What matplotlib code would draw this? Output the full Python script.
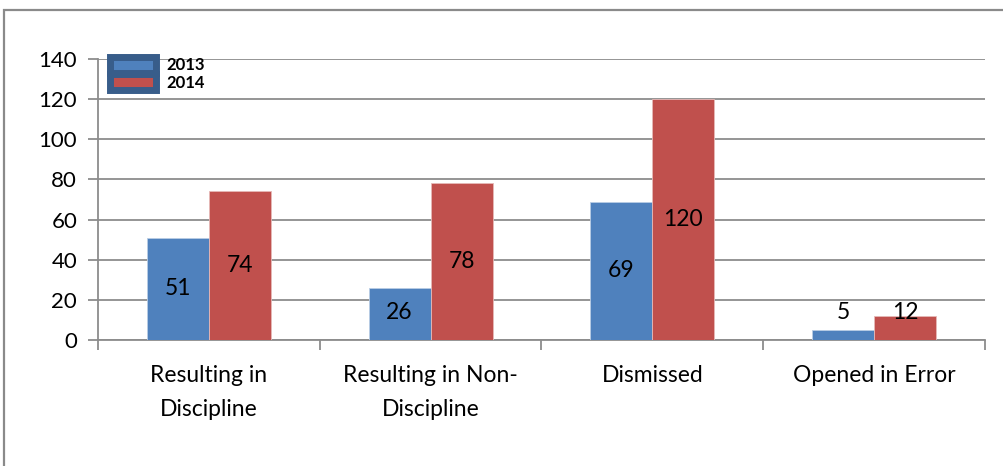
import matplotlib
matplotlib.use("Agg")
import matplotlib.pyplot as plt
import numpy as np
from matplotlib.patches import Patch, Rectangle

categories = ["Resulting in\nDiscipline", "Resulting in Non-\nDiscipline", "Dismissed", "Opened in Error"]
series_names = ["2013", "2014"]
values_2013 = [51, 26, 69, 5]
values_2014 = [74, 78, 120, 12]
y_ticks = [0, 20, 40, 60, 80, 100, 120, 140]

blue = "#4F81BD"
red = "#C0504D"
grid_gray = "#8C8C8C"

plt.rcParams["font.family"] = ["Lato", "DejaVu Sans"]

fig = plt.figure(figsize=(10.04, 4.66), dpi=100)
ax = fig.add_axes([98 / 1004, 1 - 340 / 466, 887 / 1004, 281 / 466])

# outer chart frame (top and left edges visible)
fig.patches.append(Rectangle((4 / 1004, -0.1), 1.2, 1 - 10 / 466 + 0.1,
                             transform=fig.transFigure, fill=False,
                             edgecolor="#8A8A8A", linewidth=1.6))

x = np.arange(len(categories))
w = 0.28
b1 = ax.bar(x - w / 2, values_2013, w, color=blue, edgecolor="#B9CDE5", linewidth=0.6, zorder=3)
b2 = ax.bar(x + w / 2, values_2014, w, color=red, edgecolor="#E6B9B8", linewidth=0.6, zorder=3)

for bars, vals in ((b1, values_2013), (b2, values_2014)):
    for rect, v in zip(bars, vals):
        ypos = max(v / 2, 13.5)
        ax.text(rect.get_x() + rect.get_width() / 2, ypos, str(v),
                ha="center", va="center", fontsize=16.5, color="black", zorder=4)

ax.set_xlim(-0.5, len(categories) - 0.5)
ax.set_ylim(0, 140)
ax.set_yticks(y_ticks)
ax.set_yticklabels([str(t) for t in y_ticks], fontsize=16)
ax.yaxis.grid(True, color=grid_gray, linewidth=1.3, zorder=0)
ax.set_axisbelow(True)

ax.set_xticks(np.arange(len(categories) + 1) - 0.5)
ax.set_xticklabels([])
ax.set_xticks(x, minor=True)
ax.set_xticklabels(categories, minor=True, fontsize=16.5, linespacing=1.75)
ax.tick_params(axis="x", which="minor", length=0, pad=18)
ax.tick_params(axis="x", which="major", length=7, width=1.3, color=grid_gray, direction="out")
ax.tick_params(axis="y", length=7, width=1.3, color=grid_gray, direction="out", pad=8)

for s in ("top", "right"):
    ax.spines[s].set_visible(False)
for s in ("left", "bottom"):
    ax.spines[s].set_color(grid_gray)
    ax.spines[s].set_linewidth(1.3)

handles = [Patch(facecolor=blue, edgecolor="#385D8A", linewidth=5, joinstyle="round"),
           Patch(facecolor=red, edgecolor="#385D8A", linewidth=5, joinstyle="round")]
leg = ax.legend(handles, series_names, loc="upper left", bbox_to_anchor=(0.0, 1.05),
                frameon=False, prop={"weight": "bold", "size": 12},
                handlelength=2.8, handleheight=1.1, handletextpad=0.6,
                labelspacing=0.05, borderaxespad=0.3)

fig.savefig("out.png", dpi=100, facecolor="white")
